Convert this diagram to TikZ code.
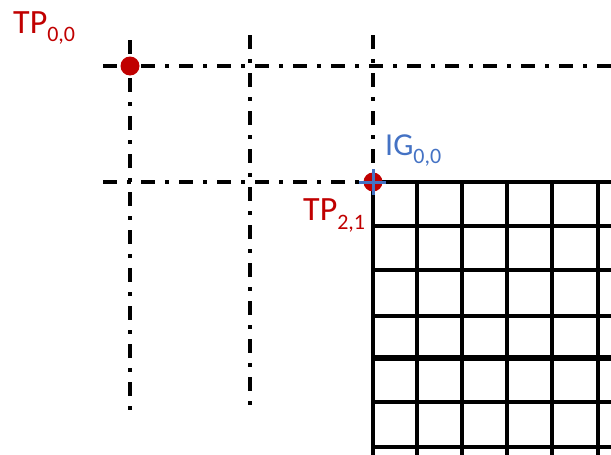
\documentclass[tikz,border=0pt]{standalone}
\usepackage{fontspec}
\setmainfont{Carlito}
\definecolor{tpred}{HTML}{C00000}
\definecolor{igblue}{HTML}{4472C4}
\newcommand{\mysub}[2]{\raisebox{-#2pt}{\fontsize{22}{22}\selectfont #1}}
\begin{document}
\begin{tikzpicture}[x=1pt,y=-1pt,
  dashdot/.style={line width=3.4pt, dash pattern=on 14pt off 10pt on 3.5pt off 10.5pt},
  gridline/.style={line width=3.2pt},
  thickline/.style={line width=5.5pt},
  tpdot/.style={circle, fill=tpred, minimum size=19pt, inner sep=0pt},
  lbl/.style={inner sep=0pt, anchor=base west}]
\useasboundingbox (0,0) rectangle (611,455);
% dash-dot guide lines
\coordinate (h1a) at (103,66);
\coordinate (h1b) at (611,66);
\coordinate (h2a) at (103,182);
\coordinate (v1a) at (130,40);
\coordinate (v1b) at (130,410);
\coordinate (v2a) at (250,35);
\coordinate (v2b) at (250,406);
\coordinate (v3a) at (373,35);
\coordinate (o) at (373,182);
\draw[dashdot] (h1a) -- (h1b);
\draw[dashdot] (h2a) -- (o);
\draw[dashdot] (v1a) -- (v1b);
\draw[dashdot] (v2a) -- (v2b);
\draw[dashdot] (v3a) -- (o);
% grid
\foreach \x in {373,417,462,507,552,598}
  \draw[gridline] (\x,182) -- (\x,455);
\foreach \y in {182,226,270,316,402,447}
  \draw[gridline] (373,\y) -- (611,\y);
\draw[thickline] (373,358) -- (611,358);
% points
\node[tpdot] (tp00) at (130,66) {};
\node[tpdot] (tp21) at (o) {};
\coordinate (cl) at (359,182);
\coordinate (cr) at (386,182);
\coordinate (ct) at (373,169);
\coordinate (cb) at (373,195);
\draw[igblue, line width=3pt] (cl) -- (cr) (ct) -- (cb);
% labels
\node[lbl, text=tpred] (ltp00) at (13,33) {\fontsize{34}{34}\selectfont TP\mysub{0,0}{9}};
\node[lbl, text=igblue] (lig) at (385,155) {\fontsize{32}{32}\selectfont IG\mysub{0,0}{8}};
\node[lbl, text=tpred] (ltp21) at (303,220) {\fontsize{34}{34}\selectfont TP\mysub{2,1}{9}};
\end{tikzpicture}
\end{document}
